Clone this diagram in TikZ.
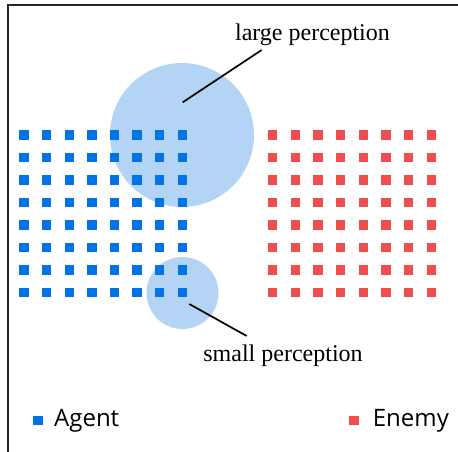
\documentclass[tikz,border=0pt]{standalone}
\usepackage{fontspec}
\setmainfont{Liberation Serif}
\newfontfamily\legendfont{Open Sans}
\definecolor{agentblue}{HTML}{0073E6}
\definecolor{enemyred}{HTML}{F04E4E}
\definecolor{perceptblue}{HTML}{B3D4F5}
\begin{document}
\begin{tikzpicture}[x=1pt,y=-1pt,
  unit/.style={rectangle,minimum size=9.4pt,inner sep=0pt,outer sep=0pt},
  agent/.style={unit,fill=agentblue},
  enemy/.style={unit,fill=enemyred},
  perception/.style={circle,fill=perceptblue,inner sep=0pt,outer sep=0pt},
  leader/.style={draw=black,line width=1.7pt},
  caption/.style={font=\fontsize{24}{27}\selectfont,inner sep=0pt},
  legendtext/.style={font=\legendfont\fontsize{24}{28}\selectfont,inner sep=0pt,anchor=base west}]
  \useasboundingbox (0,0) rectangle (458,452);
  % frame: top and left edges
  \draw[line width=2pt,black!85] (458,5) -- (8,5) -- (8,452);
  % perception ranges
  \node[perception,minimum size=144pt] (large) at (182,135) {};
  \node[perception,minimum size=72pt] (small) at (182.5,293) {};
  % agent and enemy formations
  \foreach \i in {0,...,7}{
    \foreach \j in {0,...,7}{
      \node[agent] (a-\i-\j) at ({24+22.6*\i},{135+22.5*\j}) {};
      \node[enemy] (e-\i-\j) at ({272.5+22.7*\i},{135+22.5*\j}) {};
    }
  }
  % labels with leader lines
  \node[caption] (largelabel) at (312.5,35) {large perception};
  \node[caption] (smalllabel) at (283,356) {small perception};
  \coordinate (largein) at (182.7,102.3);
  \coordinate (largeout) at (261.7,50);
  \coordinate (smallin) at (189.3,304);
  \coordinate (smallout) at (246.7,336);
  \draw[leader] (largein) -- (largeout);
  \draw[leader] (smallin) -- (smallout);
  % legend
  \node[agent] (legagent) at (38,420.5) {};
  \node[legendtext] (legagenttext) at (54,426) {Agent};
  \node[enemy] (legenemy) at (354,420.5) {};
  \node[legendtext] (legenemytext) at (372.7,426) {Enemy};
\end{tikzpicture}
\end{document}
